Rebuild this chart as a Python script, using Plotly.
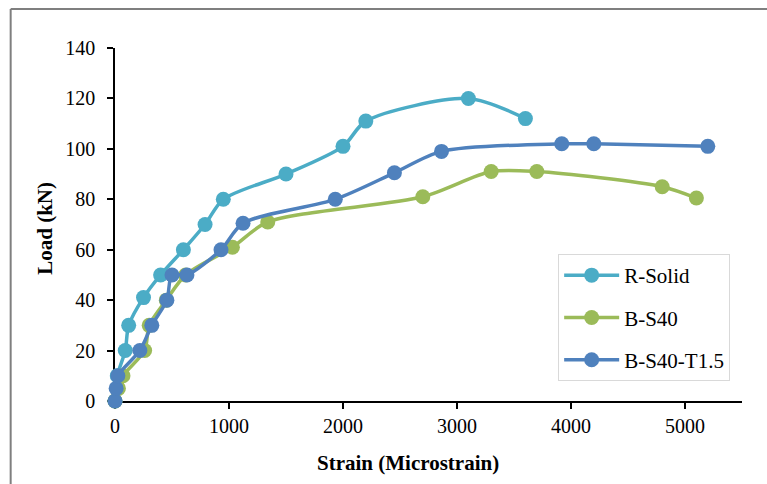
import plotly.graph_objects as go

# Load-strain readings for each specimen
r_solid_strain = [0, 20, 90, 120, 250, 400, 600, 790, 950, 1500, 2000, 2200, 3100, 3600]
r_solid_load = [0, 10, 20, 30, 41, 50, 60, 70, 80, 90, 101, 111, 120, 112]

b_s40_strain = [0, 30, 70, 260, 300, 450, 620, 1030, 1340, 2700, 3300, 3700, 4800, 5100]
b_s40_load = [0, 5, 10, 20, 30, 40, 50, 61, 71, 81, 91, 91, 85, 80.5]

b_s40_t15_strain = [0, 10, 25, 218, 323, 455, 500, 631, 930, 1123, 1932, 2451, 2864, 3919, 4200, 5200]
b_s40_t15_load = [0, 5, 10, 20, 30, 40, 50, 50, 60, 70.5, 80, 90.5, 99, 102, 102, 101]

series_names = ["R-Solid", "B-S40", "B-S40-T1.5"]
series_colors = ["#4BACC6", "#9BBB59", "#4F81BD"]

x_ticks = [0, 1000, 2000, 3000, 4000, 5000]
y_ticks = [0, 20, 40, 60, 80, 100, 120, 140]

FONT = "Liberation Serif, Times New Roman, serif"

fig = go.Figure()
data = [
    (r_solid_strain, r_solid_load),
    (b_s40_strain, b_s40_load),
    (b_s40_t15_strain, b_s40_t15_load),
]
for i, ((xs, ys), name, color) in enumerate(zip(data, series_names, series_colors)):
    fig.add_trace(go.Scatter(
        x=xs, y=ys, name=name, mode="lines+markers",
        line=dict(color=color, width=3.5, shape="spline", smoothing=0.8),
        marker=dict(color=color, size=15, line=dict(width=0)),
        cliponaxis=False,
        legendgroup=f"g{i}",
    ))

fig.update_layout(
    width=767, height=484,
    margin=dict(l=115, r=25, t=48, b=83),
    paper_bgcolor="white", plot_bgcolor="white",
    font=dict(family=FONT, size=20, color="black"),
    showlegend=True,
    legend=dict(
        x=0.7068, y=0.4164, xanchor="left", yanchor="top",
        bordercolor="#d9d9d9", borderwidth=1, bgcolor="white",
        font=dict(family=FONT, size=21, color="black"),
        tracegroupgap=12, itemwidth=55,
    ),
    xaxis=dict(
        range=[0, 5500], tickvals=x_ticks, ticktext=[str(v) for v in x_ticks],
        showline=True, linecolor="black", linewidth=1.5,
        ticks="outside", ticklen=6, tickwidth=1.5, tickcolor="black",
        showgrid=False, zeroline=False, layer="below traces",
        tickfont=dict(family=FONT, size=20, color="black"),
    ),
    yaxis=dict(
        range=[0, 140], tickvals=y_ticks, ticktext=[str(v) for v in y_ticks],
        showline=True, linecolor="black", linewidth=1.5,
        ticks="outside", ticklen=6, tickwidth=1.5, tickcolor="black",
        showgrid=False, zeroline=False, layer="below traces",
        tickfont=dict(family=FONT, size=20, color="black"),
        ticklabelstandoff=8,
    ),
    annotations=[
        dict(text="<b>Strain (Microstrain)</b>", xref="paper", yref="paper",
             x=0.4673, y=-0.1756, xanchor="center", yanchor="middle",
             showarrow=False, font=dict(family=FONT, size=21, color="black")),
        dict(text="<b>Load (kN)</b>", xref="paper", yref="paper",
             x=-0.1121, y=0.490, xanchor="center", yanchor="middle", textangle=-90,
             showarrow=False, font=dict(family=FONT, size=21, color="black")),
    ],
    shapes=[
        # chart frame (left and top edges)
        dict(type="line", xref="paper", yref="paper", x0=-0.1664, x1=-0.1664,
             y0=1.1105, y1=-0.3, line=dict(color="#7f7f7f", width=2)),
        dict(type="line", xref="paper", yref="paper", x0=-0.1664, x1=1.1,
             y0=1.1105, y1=1.1105, line=dict(color="#7f7f7f", width=2)),
    ],
)

fig.write_html("out.html")
